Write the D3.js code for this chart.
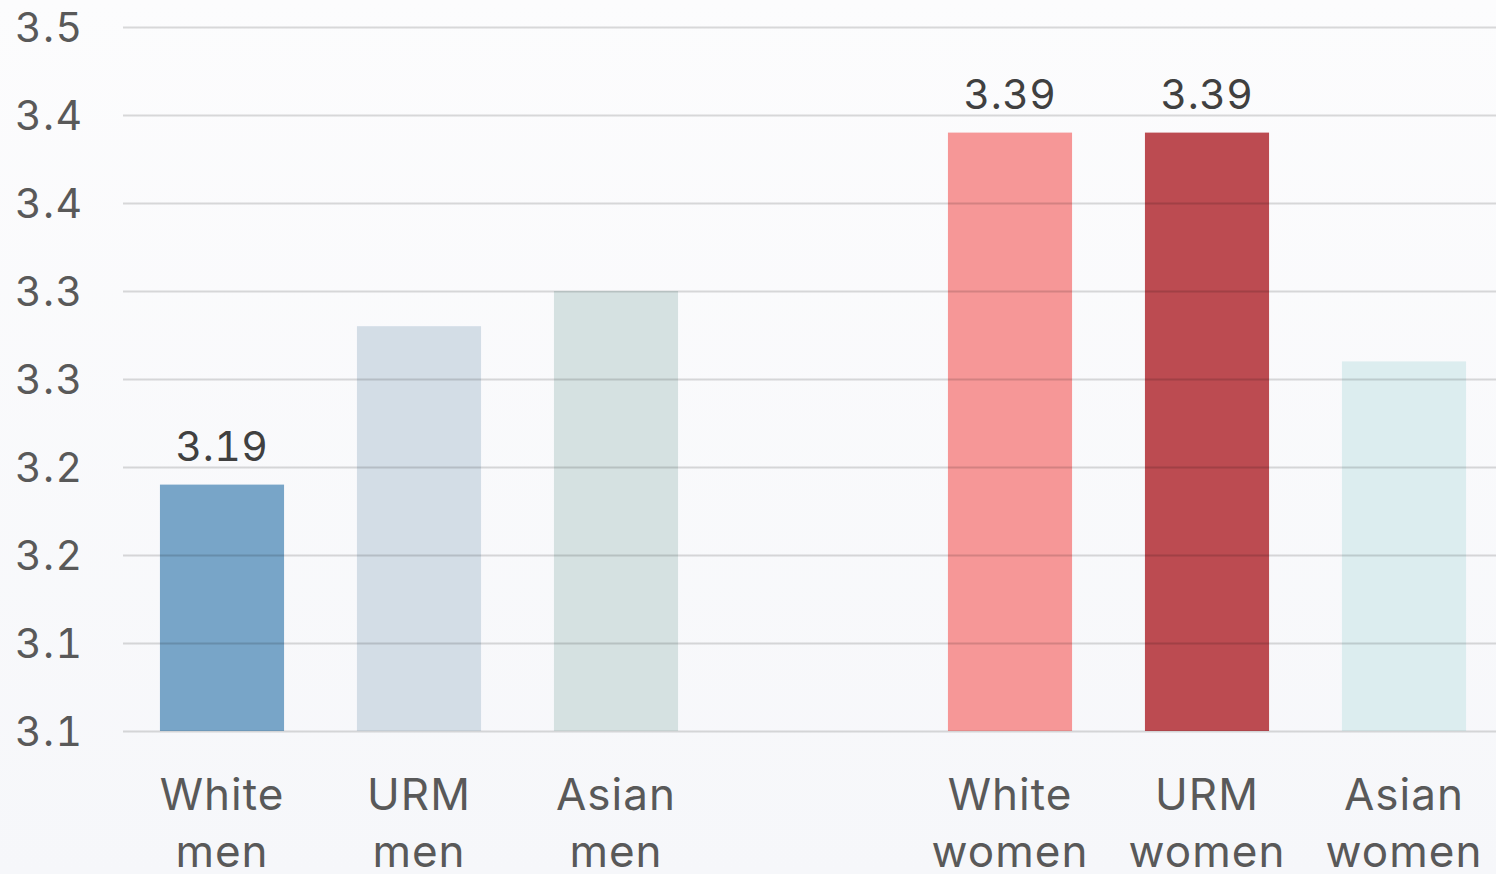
<!DOCTYPE html>
<html>
<head>
<meta charset="utf-8">
<script src="https://cdn.jsdelivr.net/npm/d3@7"></script>
<style>
  html, body { margin: 0; padding: 0; }
  body { width: 1496px; height: 874px; overflow: hidden; }
  svg { display: block; }
  text { font-variant-numeric: tabular-nums; }
</style>
</head>
<body>
<svg id="chart" width="1496" height="874"></svg>
<script>
// Mean scores by group; the empty slot separates men from women
const categories = ["White men", "URM men", "Asian men", "", "White women", "URM women", "Asian women"];
const values = [3.19, 3.28, 3.30, null, 3.39, 3.39, 3.26];
const colors = ["#78a5c8", "#d3dde6", "#d5e1e1", null, "#f69797", "#bc4b51", "#dcedef"];
const showValue = [true, false, false, false, true, true, false];
const tickValues = [3.05, 3.10, 3.15, 3.20, 3.25, 3.30, 3.35, 3.40, 3.45];
const tickLabels = ["3.1", "3.1", "3.2", "3.2", "3.3", "3.3", "3.4", "3.4", "3.5"];

const W = 1496, H = 874;
const svg = d3.select("#chart");
const font = "Inter, 'Open Sans', sans-serif";

// soft background
const defs = svg.append("defs");
const grad = defs.append("linearGradient").attr("id", "bg").attr("x1", 0).attr("y1", 0).attr("x2", 0).attr("y2", 1);
grad.append("stop").attr("offset", "0%").attr("stop-color", "#fcfcfd");
grad.append("stop").attr("offset", "100%").attr("stop-color", "#f6f7fa");
svg.append("rect").attr("width", W).attr("height", H).attr("fill", "url(#bg)");

const y = d3.scaleLinear().domain([3.05, 3.45]).range([731, 27]);
const x = d3.scaleBand().domain(categories.map((c, i) => i))
  .range([123.5, 1502.5]).paddingInner(0.37).paddingOuter(0.185);

const data = categories.map((c, i) => ({ i, c, v: values[i], color: colors[i], show: showValue[i] }))
  .filter(d => d.v !== null);

// bars
svg.append("g").selectAll("rect").data(data).join("rect")
  .attr("x", d => x(d.i))
  .attr("width", x.bandwidth())
  .attr("y", d => y(d.v))
  .attr("height", d => y(3.05) - y(d.v))
  .attr("fill", d => d.color);

// gridlines drawn over the bars
const yAxis = d3.axisLeft(y).tickValues(tickValues).tickSize(-(W - 123)).tickFormat((d, i) => tickLabels[i]);
const gy = svg.append("g").attr("transform", "translate(123,0)").call(yAxis);
gy.select(".domain").remove();
gy.selectAll(".tick line").attr("stroke", "#000").attr("stroke-opacity", 0.14).attr("stroke-width", 2);
gy.selectAll(".tick text")
  .attr("x", -108).attr("text-anchor", "start").attr("dy", "0.36em")
  .attr("fill", "#595959").attr("font-family", font).attr("font-size", 41)
  .attr("letter-spacing", 1.5);

// value labels
svg.append("g").selectAll("text").data(data.filter(d => d.show)).join("text")
  .attr("x", d => x(d.i) + x.bandwidth() / 2)
  .attr("y", d => y(d.v) - 24)
  .attr("text-anchor", "middle")
  .attr("fill", "#404040").attr("font-family", font).attr("font-size", 41)
  .attr("letter-spacing", 0.5)
  .text(d => d.v.toFixed(2));

// category labels on two lines
const lab = svg.append("g").selectAll("text").data(data).join("text")
  .attr("text-anchor", "middle")
  .attr("fill", "#595959").attr("font-family", font).attr("font-size", 44)
  .attr("letter-spacing", 1);
lab.each(function(d) {
  const parts = d.c.split(" ");
  const t = d3.select(this);
  parts.forEach((p, k) => {
    t.append("tspan").attr("x", x(d.i) + x.bandwidth() / 2).attr("y", 810 + k * 57).text(p);
  });
});
</script>
</body>
</html>
